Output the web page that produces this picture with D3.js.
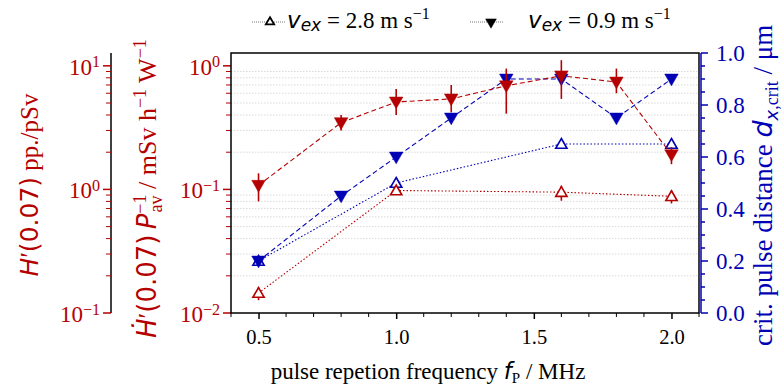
<!DOCTYPE html>
<html>
<head>
<meta charset="utf-8">
<script src="https://cdn.jsdelivr.net/npm/d3@7"></script>
<style>
body { margin: 0; background: #fff; }
text { font-family: "Liberation Serif", serif; }
</style>
</head>
<body>
<div id="chart"></div>
<script>
// data
var freqSlow = [0.5, 0.8, 1.0, 1.2, 1.4, 1.6, 1.8, 2.0];          // v_ex = 0.9 m/s
var doseSlow = [0.108, 0.347, 0.51, 0.54, 0.69, 0.83, 0.74, 0.191];
var doseSlowLo = [0.080, 0.30, 0.40, 0.42, 0.41, 0.54, 0.60, 0.16];
var doseSlowHi = [0.135, 0.40, 0.65, 0.70, 0.95, 1.11, 0.95, 0.22];
var distSlow = [0.2, 0.45, 0.6, 0.75, 0.9, 0.9, 0.75, 0.9];

var freqFast = [0.5, 1.0, 1.6, 2.0];                                // v_ex = 2.8 m/s
var doseFast = [0.0145, 0.098, 0.095, 0.088];
var doseFastLo = [0.0127, 0.090, 0.081, 0.077];
var doseFastHi = [0.0162, 0.106, 0.107, 0.098];
var distFast = [0.2, 0.5, 0.65, 0.65];

var xTicks = [0.5, 1.0, 1.5, 2.0];
var rightTicks = [0.0, 0.2, 0.4, 0.6, 0.8, 1.0];

var red = "#b40000", blue = "#0000b4";
var w = 781, h = 390;
var pLeft = 231, pRight = 699, pTop = 53, pBottom = 313;

var svg = d3.select("#chart").append("svg")
  .attr("width", w).attr("height", h);

//scales
var x = d3.scaleLinear().domain([0.4, 2.1]).range([pLeft, pRight]);
var yDose = d3.scaleLog().domain([0.01, 1.27]).range([pBottom, pTop]);
var yOuter = d3.scaleLog().domain([0.1, 12.7]).range([pBottom, pTop]);
var yDist = d3.scaleLinear().domain([0, 1]).range([pBottom, pTop]);

function isPow10(v) { return Math.abs(Math.log10(v) - Math.round(Math.log10(v))) < 1e-6; }

// grid lines (dotted) at the log ticks
svg.append("g").selectAll("line")
  .data(yDose.ticks().filter(function(d) { return !isPow10(d); }))
  .enter().append("line")
  .attr("x1", pLeft).attr("x2", pRight)
  .attr("y1", function(d) { return yDose(d); })
  .attr("y2", function(d) { return yDose(d); })
  .attr("stroke", "#cfcfcf").attr("stroke-width", 0.8)
  .attr("stroke-dasharray", "1.5,1.5");

// power-of-ten label
function powLabel(sel, d) {
  var e = Math.round(Math.log10(d));
  sel.text("10");
  sel.append("tspan").attr("dy", "-0.45em").attr("font-size", "0.7em")
    .text(e < 0 ? "\u2212" + (-e) : e);
}

// log axis helper (ticks only, red)
function logAxis(scale, xpos, withLine) {
  var g = svg.append("g").attr("transform", "translate(" + xpos + ",0)");
  if (withLine) {
    g.append("line").attr("y1", scale.range()[1]).attr("y2", scale.range()[0])
      .attr("stroke", "#000").attr("stroke-width", 1.5);
  }
  var t = g.selectAll(".tk").data(scale.ticks()).enter().append("g")
    .attr("transform", function(d) { return "translate(0," + scale(d) + ")"; });
  t.append("line")
    .attr("x1", function(d) { return isPow10(d) ? -8 : -5; }).attr("x2", 0)
    .attr("stroke", red).attr("stroke-width", function(d) { return isPow10(d) ? 1.5 : 1; });
  t.filter(isPow10).append("text")
    .attr("x", -11).attr("dy", "0.38em")
    .attr("text-anchor", "end").attr("fill", red).attr("font-size", "23px")
    .each(function(d) { powLabel(d3.select(this), d); });
}
logAxis(yOuter, 111, true);
logAxis(yDose, pLeft, false);

// right axis (blue)
var rAxis = svg.append("g").attr("transform", "translate(" + (pRight + 2) + ",0)");
rAxis.append("line").attr("y1", pTop).attr("y2", pBottom)
  .attr("stroke", blue).attr("stroke-width", 1.5);
rAxis.selectAll(".mt").data(d3.range(0, 1.0001, 0.05)).enter().append("line")
  .attr("x1", 0)
  .attr("x2", function(d, i) { return i % 4 === 0 ? 7 : 4; })
  .attr("y1", function(d) { return yDist(d); }).attr("y2", function(d) { return yDist(d); })
  .attr("stroke", blue).attr("stroke-width", 1.5);
rAxis.selectAll(".lb").data(rightTicks).enter().append("text")
  .attr("x", 15).attr("y", function(d) { return yDist(d); }).attr("dy", "0.35em")
  .attr("fill", blue).attr("font-size", "23px")
  .text(function(d) { return d3.format(".1f")(d); });

// x axis
var xAxis = d3.axisBottom(x).tickValues(xTicks).tickFormat(d3.format(".1f")).tickSize(6);
var gx = svg.append("g").attr("transform", "translate(0," + pBottom + ")").call(xAxis);
gx.select(".domain").remove();
gx.selectAll("text").attr("font-family", "Liberation Serif").attr("font-size", "20.5px").attr("dy", "1.05em");
gx.selectAll(".tick line").attr("stroke-width", 1.5);
svg.append("g").selectAll("line")
  .data(d3.range(0.4, 2.101, 0.1).filter(function(d) { return Math.abs(d * 2 - Math.round(d * 2)) > 0.01; }))
  .enter().append("line")
  .attr("x1", function(d) { return x(d); }).attr("x2", function(d) { return x(d); })
  .attr("y1", pBottom).attr("y2", pBottom + 4)
  .attr("stroke", "#000").attr("stroke-width", 1);

// frame
svg.append("rect").attr("x", pLeft).attr("y", pTop)
  .attr("width", pRight - pLeft).attr("height", pBottom - pTop)
  .attr("fill", "none").attr("stroke", "#000").attr("stroke-width", 1.5);

var down = d3.symbol().type(d3.symbolTriangle).size(80);
var up = d3.symbol().type(d3.symbolTriangle).size(55);

function series(xs, ys, yScale, color, dash, filled, lo, hi) {
  var pts = xs.map(function(d, i) { return [x(d), yScale(ys[i])]; });
  svg.append("path").attr("d", d3.line()(pts))
    .attr("fill", "none").attr("stroke", color).attr("stroke-width", 1.1)
    .attr("stroke-dasharray", dash);
  if (lo) {
    svg.append("g").selectAll("line").data(xs).enter().append("line")
      .attr("x1", function(d) { return x(d); }).attr("x2", function(d) { return x(d); })
      .attr("y1", function(d, i) { return yScale(lo[i]); })
      .attr("y2", function(d, i) { return yScale(hi[i]); })
      .attr("stroke", color).attr("stroke-width", 1.6);
  }
  svg.append("g").selectAll("path").data(pts).enter().append("path")
    .attr("d", filled ? down : up)
    .attr("transform", function(p) {
      return "translate(" + p[0] + "," + (p[1] + (filled ? -1 : 1)) + ")" + (filled ? " rotate(180)" : "");
    })
    .attr("fill", filled ? color : "#fff")
    .attr("stroke", color).attr("stroke-width", filled ? 0.5 : 1.6);
}

series(freqFast, distFast, yDist, blue, "1.5,2", false);
series(freqSlow, distSlow, yDist, blue, "5,3", true);
series(freqFast, doseFast, yDose, red, "1.5,2", false, doseFastLo, doseFastHi);
series(freqSlow, doseSlow, yDose, red, "5,3", true, doseSlowLo, doseSlowHi);

// axis titles
var sansI = 'font-family="DejaVu Sans" font-style="italic"';
svg.append("text")
  .attr("transform", "translate(38,185) rotate(-90)")
  .attr("text-anchor", "middle").attr("fill", red).attr("font-size", "25px")
  .html('<tspan ' + sansI + '>H</tspan>\u2032<tspan font-family="DejaVu Sans">(0.07)</tspan> pp./pSv');

svg.append("text")
  .attr("transform", "translate(156,338) rotate(-90)")
  .attr("text-anchor", "start").attr("fill", red).attr("font-size", "26px")
  .html('<tspan ' + sansI + '>\u1E22</tspan>\u2032<tspan font-family="DejaVu Sans">(0.07)</tspan>\u2009' +
        '<tspan ' + sansI + '>P</tspan>' +
        '<tspan dy="-10" font-size="18px">\u22121</tspan><tspan dx="-18" dy="16" font-size="18px">av</tspan>' +
        '<tspan dy="-6"> / mSv h</tspan><tspan dy="-10" font-size="18px">\u22121</tspan>' +
        '<tspan dy="10"> W</tspan><tspan dy="-10" font-size="18px">\u22121</tspan>');

svg.append("text")
  .attr("transform", "translate(772,346) rotate(-90)")
  .attr("text-anchor", "start").attr("fill", blue).attr("font-size", "27px")
  .html('crit. pulse distance <tspan ' + sansI + '>d</tspan>' +
        '<tspan dy="6" font-size="18px"><tspan ' + sansI + '>x</tspan>,crit</tspan>' +
        '<tspan dy="-6"> / \u03BCm</tspan>');

svg.append("text")
  .attr("x", 428).attr("y", 379)
  .attr("text-anchor", "middle").attr("font-size", "23px")
  .html('pulse repetion frequency <tspan ' + sansI + '>f</tspan>' +
        '<tspan dy="4" font-size="15px">P</tspan><tspan dy="-4"> / MHz</tspan>');

// legend
var legend = [
  { x0: 252, mark: 270, tx: 287, dir: "up", label: "2.8" },
  { x0: 470, mark: 491, tx: 528, dir: "down", label: "0.9" }
];
legend.forEach(function(l) {
  var ly = 22;
  svg.append("line").attr("x1", l.x0).attr("x2", l.x0 + 33).attr("y1", ly).attr("y2", ly)
    .attr("stroke", "#555").attr("stroke-width", 0.8).attr("stroke-dasharray", "1,1");
  svg.append("path")
    .attr("d", d3.symbol().type(d3.symbolTriangle).size(l.dir === "up" ? 30 : 50)())
    .attr("transform", "translate(" + l.mark + "," + ly + ")" + (l.dir === "down" ? " rotate(180)" : ""))
    .attr("fill", l.dir === "down" ? "#000" : "#fff").attr("stroke", "#000").attr("stroke-width", l.dir === "down" ? 0.5 : 1.8);
  svg.append("text").attr("x", l.tx).attr("y", ly + 6).attr("font-size", "23px")
    .html('<tspan ' + sansI + '>v</tspan>' +
          '<tspan ' + sansI + ' font-size="17px" dy="3">ex</tspan>' +
          '<tspan dy="-3"> = ' + l.label + ' m s</tspan><tspan dy="-9" font-size="16px">\u22121</tspan>');
});
</script>
</body>
</html>
